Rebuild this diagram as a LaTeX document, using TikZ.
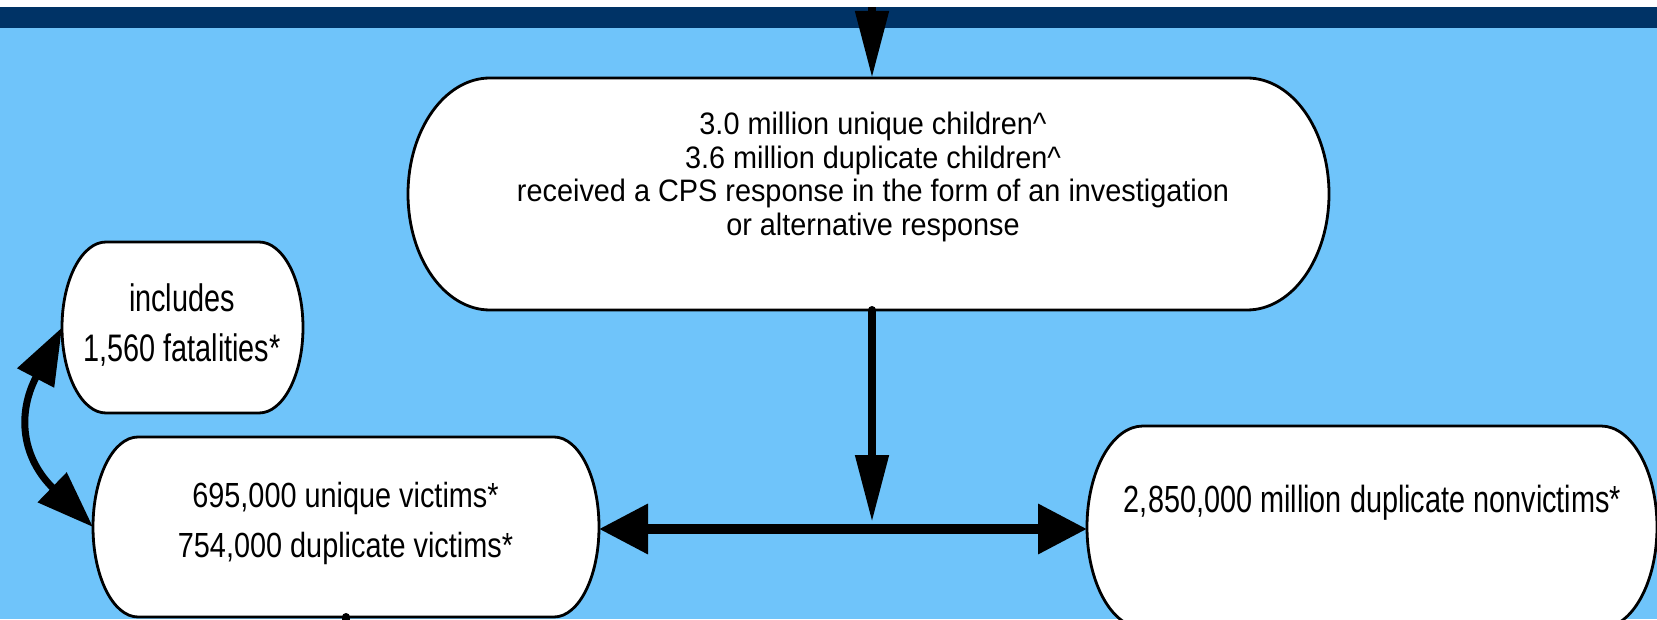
\documentclass[tikz,border=0pt]{standalone}
\usepackage{fontspec}
\setmainfont{Liberation Sans}
\usetikzlibrary{arrows.meta,calc}
\definecolor{skyblue}{RGB}{111,196,250}
\definecolor{navybar}{RGB}{0,51,102}
\newcommand\drawstadium[6]{%
  \node[boxnode, minimum width={2*#4}, minimum height={2*#5}] (#1) at (#2,#3) {};
  \draw[boxline] ({#2-#4+#6},{#3+#5}) -- ({#2+#4-#6},{#3+#5})
     arc[start angle=90,end angle=-90,x radius=#6,y radius=#5]
     -- ({#2-#4+#6},{#3-#5})
     arc[start angle=270,end angle=90,x radius=#6,y radius=#5] -- cycle;
}
\tikzset{
  boxnode/.style={rectangle, draw=none, inner sep=0pt, outer sep=0pt},
  boxline/.style={draw=black, fill=white, line width=2.8pt},
  txt/.style={align=center, inner sep=0pt, anchor=base},
  downarr/.style={line width=8pt, line cap=round, -{Triangle[length=67pt,width=32pt]}},
  sidearr/.style={line width=10pt, -{Triangle[length=49pt,width=48pt]}},
  curvearr/.style={line width=7pt, {Triangle[length=57pt,width=40pt]}-{Triangle[length=57pt,width=40pt]}},
  stub/.style={line width=8pt, line cap=round}
}
\begin{document}
\begin{tikzpicture}[x=1pt,y=1pt]
\useasboundingbox (0,0) rectangle (1657,619);
\fill[skyblue] (0,0) rectangle (1657,591);
\fill[navybar] (0,591) rectangle (1657,612);

\drawstadium{cps}{868.5}{425}{460.5}{116}{82}
\drawstadium{fatal}{182.5}{291.5}{120.5}{85.5}{44}
\drawstadium{vic}{346}{92}{253}{90}{45}
\drawstadium{nonvic}{1372}{92}{285}{101}{56}

\node[txt, yscale=1.075, font=\fontsize{28.85}{31.2}\selectfont] (cpstext) at (873,383.5)
  {3.0 million unique children\textasciicircum\\3.6 million duplicate children\textasciicircum\\received a CPS response in the form of an investigation\\or alternative response};
\node[txt, yscale=1.33, font=\fontsize{28.85}{37.6}\selectfont] (fataltext) at (182,257)
  {includes\\1,560 fatalities*};
\node[txt, yscale=1.21, font=\fontsize{28.85}{40.5}\selectfont] (victext) at (345.5,62)
  {695,000 unique victims*\\754,000 duplicate victims*};
\node[txt, yscale=1.31, font=\fontsize{28.85}{37}\selectfont] (nonvictext) at (1372.5,107)
  {2,850,000 million duplicate nonvictims*};

\coordinate (topin) at (872,700);
\coordinate (junc) at (872,90);
\coordinate (jtip) at (872,97);

\draw[downarr] (topin) -- (cps.north -| topin);
\draw[downarr] (cps.south -| junc) -- (jtip);
\draw[sidearr] (junc) -- (vic.east |- junc);
\draw[sidearr] (junc) -- (nonvic.west |- junc);
\draw[curvearr] (fatal.west) .. controls +(-46,-88) and +(-70,68) .. (vic.west);
\draw[stub] (vic.south) -- ++(0,-30);

\fill[white] (0,612) rectangle (1657,640);
\end{tikzpicture}
\end{document}
